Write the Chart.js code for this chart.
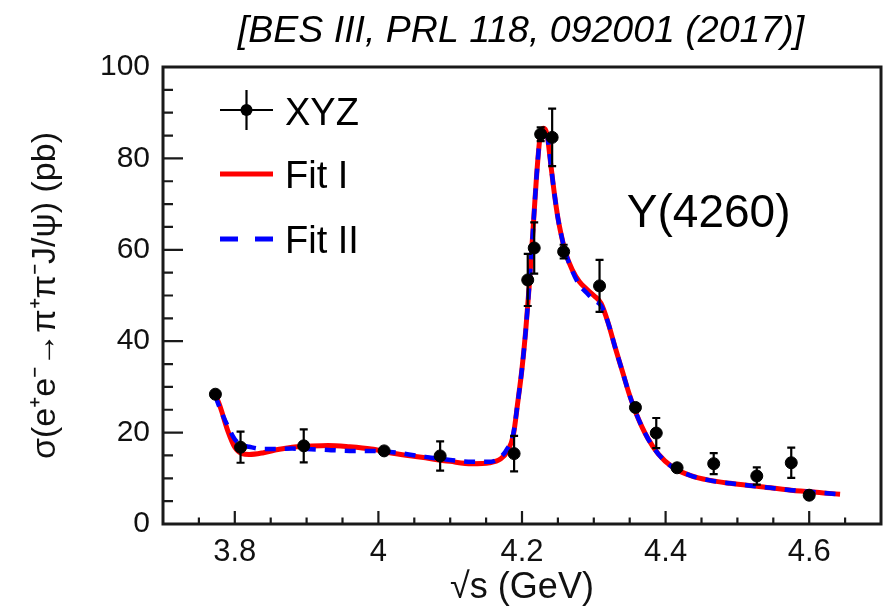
<!DOCTYPE html>
<html>
<head>
<meta charset="utf-8">
<script src="https://cdn.jsdelivr.net/npm/chart.js@4.4.0/dist/chart.umd.min.js"></script>
<style>
  html, body { margin: 0; padding: 0; background: #fff; }
</style>
</head>
<body>
<canvas id="xsec" width="888" height="610"></canvas>
<script>
// measured cross sections: sqrt(s) in GeV, sigma in pb, symmetric error
const energies = [3.773, 3.808, 3.896, 4.008, 4.086, 4.189, 4.208, 4.217, 4.226, 4.242,
                  4.258, 4.308, 4.358, 4.387, 4.416, 4.467, 4.527, 4.575, 4.600];
const sigma    = [28.4, 16.8, 17.1, 16.0, 14.9, 15.4, 53.4, 60.4, 85.3, 84.6,
                  59.6, 52.1, 25.5, 19.9, 12.3, 13.2, 10.5, 13.4, 6.3];
const sigmaErr = [1.0, 3.4, 3.6, 1.0, 3.2, 3.9, 5.7, 5.6, 1.5, 6.3,
                  1.5, 5.7, 1.0, 3.3, 1.0, 2.3, 1.9, 3.3, 0.8];

// fit curves
const fitEnergies = [3.773, 3.780, 3.790, 3.800, 3.810, 3.820, 3.840, 3.860, 3.880, 3.900,
                     3.930, 3.960, 3.990, 4.020, 4.060, 4.100, 4.130, 4.155, 4.170, 4.180,
                     4.188, 4.194, 4.200, 4.205, 4.210, 4.215, 4.220, 4.225, 4.230, 4.235,
                     4.240, 4.245, 4.250, 4.255, 4.260, 4.270, 4.280, 4.290, 4.300, 4.310,
                     4.320, 4.330, 4.340, 4.350, 4.360, 4.375, 4.390, 4.410, 4.435, 4.460,
                     4.490, 4.530, 4.575, 4.620, 4.643];
const fitI  = [28.3, 25.5, 20.5, 16.8, 15.4, 15.2, 15.6, 16.3, 16.8, 17.0,
               17.2, 16.9, 16.4, 15.5, 14.6, 13.7, 13.2, 13.4, 14.2, 16.0,
               19.5, 26.5, 34.0, 42.0, 52.0, 63.5, 75.5, 84.5, 86.6, 85.2,
               78.8, 72.4, 67.0, 63.0, 59.7, 55.6, 53.0, 51.4, 50.0, 48.3,
               44.0, 38.5, 33.3, 28.1, 23.8, 18.8, 15.3, 12.4, 10.6, 9.6,
               8.9, 8.2, 7.4, 6.8, 6.5];
const fitII = [28.0, 25.0, 21.5, 18.5, 17.3, 16.9, 16.4, 16.4, 16.5, 16.4,
               16.2, 16.0, 16.0, 15.7, 14.8, 14.0, 13.6, 13.6, 14.6, 16.6,
               19.8, 26.5, 34.0, 42.0, 52.0, 63.5, 75.5, 84.5, 86.6, 85.2,
               78.8, 72.4, 67.0, 63.0, 59.7, 55.4, 52.3, 50.6, 49.0, 47.8,
               44.0, 38.5, 33.3, 28.1, 23.8, 18.8, 15.3, 12.4, 10.6, 9.6,
               8.9, 8.2, 7.4, 6.8, 6.5];

const xTickLabels = [3.8, 4.0, 4.2, 4.4, 4.6];
const yTickLabels = [0, 20, 40, 60, 80, 100];

const FONT = "'Liberation Sans', Arial, sans-serif";

const toPoints = (xs, ys) => xs.map((x, i) => ({ x: x, y: ys[i] }));

// error bars on the XYZ points
const errorBars = {
  id: 'errorBars',
  afterDatasetsDraw(chart) {
    const { ctx, scales: { x, y } } = chart;
    ctx.save();
    ctx.strokeStyle = '#000';
    ctx.lineWidth = 2.2;
    energies.forEach((e, i) => {
      const px = x.getPixelForValue(e);
      const top = y.getPixelForValue(sigma[i] + sigmaErr[i]);
      const bot = y.getPixelForValue(sigma[i] - sigmaErr[i]);
      if (bot - top < 13) return;
      ctx.beginPath();
      ctx.moveTo(px, top); ctx.lineTo(px, bot);
      ctx.moveTo(px - 4, top); ctx.lineTo(px + 4, top);
      ctx.moveTo(px - 4, bot); ctx.lineTo(px + 4, bot);
      ctx.stroke();
    });
    ctx.restore();
  }
};

// frame, inward ticks, header, legend and the Y(4260) label
const decorations = {
  id: 'decorations',
  afterDraw(chart) {
    const { ctx, chartArea: a, scales: { x, y } } = chart;
    ctx.save();

    // frame
    ctx.strokeStyle = '#1a1a1a';
    ctx.lineWidth = 3;
    ctx.strokeRect(a.left, a.top, a.right - a.left, a.bottom - a.top);

    // y ticks every 5, major every 20
    ctx.lineWidth = 2.2;
    ctx.beginPath();
    for (let v = 0; v <= 100; v += 5) {
      const py = y.getPixelForValue(v);
      const len = v % 20 === 0 ? 20 : 10;
      ctx.moveTo(a.left, py); ctx.lineTo(a.left + len, py);
    }
    // x ticks every 0.05, major every 0.2
    for (let i = 1; i < 20; i++) {
      const v = 3.7 + i * 0.05;
      const px = x.getPixelForValue(v);
      const len = (i - 2) % 4 === 0 ? 13 : 6.5;
      ctx.moveTo(px, a.bottom); ctx.lineTo(px, a.bottom - len);
    }
    ctx.stroke();

    // header reference
    ctx.fillStyle = '#000';
    ctx.font = 'italic 37.5px ' + FONT;
    ctx.textAlign = 'center';
    ctx.textBaseline = 'alphabetic';
    ctx.fillText('[BES III, PRL 118, 092001 (2017)]', 521, 42);

    // legend
    const lx0 = a.left + 57, lx1 = a.left + 110, tx = a.left + 122;
    const rows = [a.top + 43, a.top + 107, a.top + 172];
    ctx.lineWidth = 2.2;
    ctx.strokeStyle = '#000';
    ctx.beginPath();
    ctx.moveTo(lx0, rows[0]); ctx.lineTo(lx1, rows[0]);
    ctx.moveTo((lx0 + lx1) / 2, rows[0] - 20); ctx.lineTo((lx0 + lx1) / 2, rows[0] + 20);
    ctx.stroke();
    ctx.beginPath();
    ctx.arc((lx0 + lx1) / 2, rows[0], 6, 0, Math.PI * 2);
    ctx.fill();

    ctx.lineWidth = 5;
    ctx.strokeStyle = '#ff0000';
    ctx.beginPath();
    ctx.moveTo(lx0, rows[1]); ctx.lineTo(lx1, rows[1]);
    ctx.stroke();

    ctx.strokeStyle = '#0000ff';
    ctx.setLineDash([18, 17]);
    ctx.beginPath();
    ctx.moveTo(lx0, rows[2]); ctx.lineTo(lx1, rows[2]);
    ctx.stroke();
    ctx.setLineDash([]);

    ctx.font = '38px ' + FONT;
    ctx.textAlign = 'left';
    ctx.fillText('XYZ', tx, rows[0] + 15);
    ctx.fillText('Fit I', tx, rows[1] + 14);
    ctx.fillText('Fit II', tx, rows[2] + 14);

    // resonance label
    ctx.font = '46px ' + FONT;
    ctx.fillText('Y(4260)', x.getPixelForValue(4.346), y.getPixelForValue(65));

    ctx.restore();
  }
};

new Chart(document.getElementById('xsec'), {
  type: 'scatter',
  data: {
    datasets: [
      {
        label: 'XYZ',
        data: toPoints(energies, sigma),
        backgroundColor: '#000',
        borderColor: '#000',
        pointRadius: 6,
        pointHoverRadius: 6
      },
      {
        label: 'Fit II',
        data: toPoints(fitEnergies, fitII),
        showLine: true,
        borderColor: '#0000ff',
        borderWidth: 4.5,
        borderDash: [11, 9],
        pointRadius: 0,
        cubicInterpolationMode: 'monotone'
      },
      {
        label: 'Fit I',
        data: toPoints(fitEnergies, fitI),
        showLine: true,
        borderColor: '#ff0000',
        borderWidth: 5,
        pointRadius: 0,
        cubicInterpolationMode: 'monotone'
      }
    ]
  },
  options: {
    responsive: false,
    animation: false,
    devicePixelRatio: 1,
    layout: { padding: { top: 67, right: 6, left: 0, bottom: 0 } },
    plugins: {
      legend: { display: false },
      tooltip: { enabled: false }
    },
    scales: {
      x: {
        type: 'linear',
        min: 3.7,
        max: 4.7,
        afterBuildTicks: s => { s.ticks = xTickLabels.map(v => ({ value: v })); },
        afterFit: s => { s.height = 86; },
        grid: { display: false, drawTicks: false },
        border: { display: false },
        ticks: {
          padding: 10,
          color: '#111',
          font: { family: FONT, size: 31 },
          callback: v => String(+v.toFixed(1))
        },
        title: {
          display: true,
          text: '\u221As (GeV)',
          color: '#111',
          font: { family: FONT, size: 36, lineHeight: 1.2 },
          padding: { top: 0, bottom: 0 }
        }
      },
      y: {
        min: 0,
        max: 100,
        afterBuildTicks: s => { s.ticks = yTickLabels.map(v => ({ value: v })); },
        afterFit: s => { s.width = 163; },
        grid: { display: false, drawTicks: false },
        border: { display: false },
        ticks: {
          padding: 13,
          color: '#111',
          font: { family: FONT, size: 30 }
        },
        title: {
          display: true,
          text: '\u03C3(e\u207Ae\u207B\u2192\u03C0\u207A\u03C0\u207BJ/\u03C8) (pb)',
          color: '#111',
          font: { family: FONT, size: 34, lineHeight: 1.2 },
          padding: { top: 25, bottom: 0 }
        }
      }
    }
  },
  plugins: [errorBars, decorations]
});
</script>
</body>
</html>
